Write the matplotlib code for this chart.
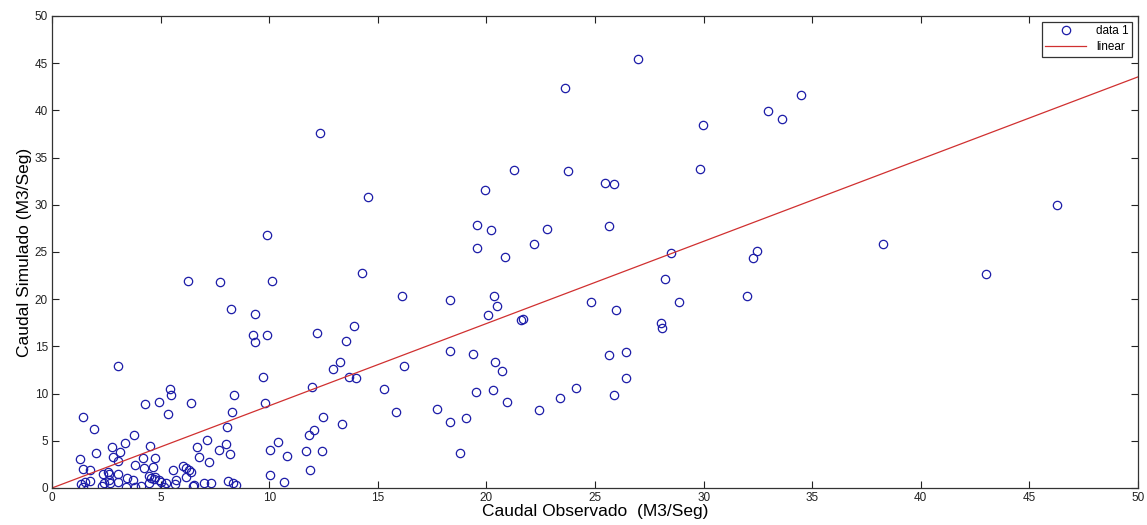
import matplotlib
matplotlib.use("Agg")
import matplotlib.pyplot as plt
import numpy as np

plt.rcParams['font.family'] = ['Liberation Sans', 'DejaVu Sans']

obs = [26.96, 23.63, 12.32, 21.29, 23.74, 19.95, 14.57, 19.58, 20.2, 22.79,
       22.18, 19.58, 20.86, 29.99, 32.97, 33.63, 34.47, 29.85, 25.47, 25.87,
       25.63, 28.5, 32.47, 32.26, 38.26, 46.26, 42.99, 32.01, 28.24, 20.36,
       20.47, 20.09, 21.58, 21.7, 24.83, 25.95, 28.88, 28.04, 28.08, 19.38,
       20.38, 20.72, 25.63, 26.43, 26.43, 19.52, 20.32, 20.95, 24.11, 23.4,
       25.86, 22.41, 14.29, 16.13, 18.31, 12.2, 13.89, 13.52, 13.25, 12.94,
       13.66, 13.98, 11.95, 16.21, 18.34, 15.27, 15.84, 17.73, 18.31, 19.05,
       18.77, 12.46, 13.37, 12.06, 11.82, 11.71, 12.42, 11.86, 10.82, 10.67,
       9.91, 6.28, 7.73, 10.11, 8.26, 9.36, 9.25, 9.36, 9.91, 9.73,
       5.43, 5.48, 8.36, 3.05, 4.28, 4.91, 6.41, 9.82, 5.34, 8.3,
       1.41, 1.93, 3.78, 8.06, 2.75, 3.35, 4.51, 3.12, 2.03, 2.82,
       3.05, 1.3, 1.41, 1.76, 3.81, 4.17, 4.24, 4.76, 4.64, 5.56,
       6.05, 6.17, 6.29, 6.38, 6.17, 6.69, 7.14, 6.78, 7.23, 7.7,
       8.0, 8.21, 10.02, 10.05, 10.39, 6.51, 7.0, 7.32, 8.12, 8.32,
       8.47, 1.34, 1.41, 1.53, 1.74, 2.3, 2.38, 2.35, 2.59, 2.61,
       2.64, 2.67, 3.04, 3.05, 3.42, 3.44, 3.71, 3.82, 4.11, 4.47,
       4.54, 4.68, 4.73, 4.48, 4.93, 5.17, 5.23, 5.66, 5.02, 5.72,
       6.54]
sim = [45.44, 42.34, 37.64, 33.65, 33.54, 31.57, 30.83, 27.89, 27.33, 27.44,
       25.81, 25.46, 24.5, 38.45, 39.97, 39.12, 41.67, 33.76, 32.34, 32.2,
       27.72, 24.9, 25.1, 24.4, 25.85, 29.98, 22.63, 20.3, 22.17, 20.37,
       19.24, 18.29, 17.8, 17.87, 19.7, 18.9, 19.7, 17.48, 16.98, 14.16,
       13.38, 12.36, 14.1, 14.44, 11.69, 10.2, 10.38, 9.14, 10.59, 9.53,
       9.9, 8.23, 22.74, 20.37, 19.88, 16.42, 17.16, 15.57, 13.38, 12.64,
       11.79, 11.69, 10.67, 12.89, 14.55, 10.45, 8.09, 8.4, 6.99, 7.45,
       3.67, 7.56, 6.82, 6.11, 5.65, 3.96, 3.88, 1.91, 3.43, 0.67,
       26.8, 21.9, 21.79, 21.9, 18.96, 18.47, 16.24, 15.43, 16.24, 11.72,
       10.49, 9.85, 9.85, 12.92, 8.9, 9.14, 9.04, 9.04, 7.87, 8.08,
       7.56, 6.21, 5.65, 6.43, 4.34, 4.73, 4.48, 3.81, 3.67, 3.28,
       2.86, 3.04, 2.05, 1.87, 2.44, 3.14, 2.15, 3.21, 2.22, 1.91,
       2.3, 2.15, 1.91, 1.73, 1.13, 4.38, 5.05, 3.32, 2.75, 3.99,
       4.69, 3.6, 1.34, 4.06, 4.9, 0.18, 0.49, 0.56, 0.71, 0.49,
       0.29, 0.39, 0.14, 0.6, 0.78, 0.18, 0.49, 1.48, 1.73, 1.45,
       0.81, 0.56, 1.48, 0.67, 0.14, 1.02, 0.85, 0.14, 0.21, 1.27,
       1.02, 0.95, 1.17, 0.49, 0.85, 0.14, 0.49, 0.42, 0.6, 0.85,
       0.32]

# linear fit coefficients (slope, intercept)
fit_slope = 0.871
fit_intercept = 0.0
fit_x = [0, 50]

x_ticks = [0, 5, 10, 15, 20, 25, 30, 35, 40, 45, 50]
y_ticks = [0, 5, 10, 15, 20, 25, 30, 35, 40, 45, 50]

fig = plt.figure(figsize=(11.47, 5.25), dpi=100)
ax = fig.add_axes([52/1147, 37/525, (1138-52)/1147, (488-16)/525])

ax.plot(obs, sim, linestyle='none', marker='o', markersize=6,
        markerfacecolor='none', markeredgecolor='#1c1ca8', markeredgewidth=0.9,
        label='data 1')
fx = np.array(fit_x, dtype=float)
ax.plot(fx, fit_slope * fx + fit_intercept, color='#d03030', linewidth=0.9,
        label='linear')

ax.set_xlim(0, 50)
ax.set_ylim(0, 50)
ax.set_xticks(x_ticks)
ax.set_yticks(y_ticks)
ax.tick_params(direction='in', top=True, right=True, length=5, width=0.8,
               labelsize=8.5, colors='#222222', pad=3)
for s in ax.spines.values():
    s.set_linewidth(0.9)
    s.set_color('#333333')

ax.set_xlabel('Caudal Observado  (M3/Seg)', fontsize=12.5, labelpad=0)
ax.set_ylabel('Caudal Simulado (M3/Seg)', fontsize=12.5, labelpad=2)

leg = ax.legend(loc='upper right', fontsize=8.5, fancybox=False, framealpha=1,
                edgecolor='#333333', borderaxespad=0.5, handlelength=3.5,
                borderpad=0.3, labelspacing=0.3)
leg.get_frame().set_linewidth(0.9)

fig.savefig('out.png', dpi=100)
